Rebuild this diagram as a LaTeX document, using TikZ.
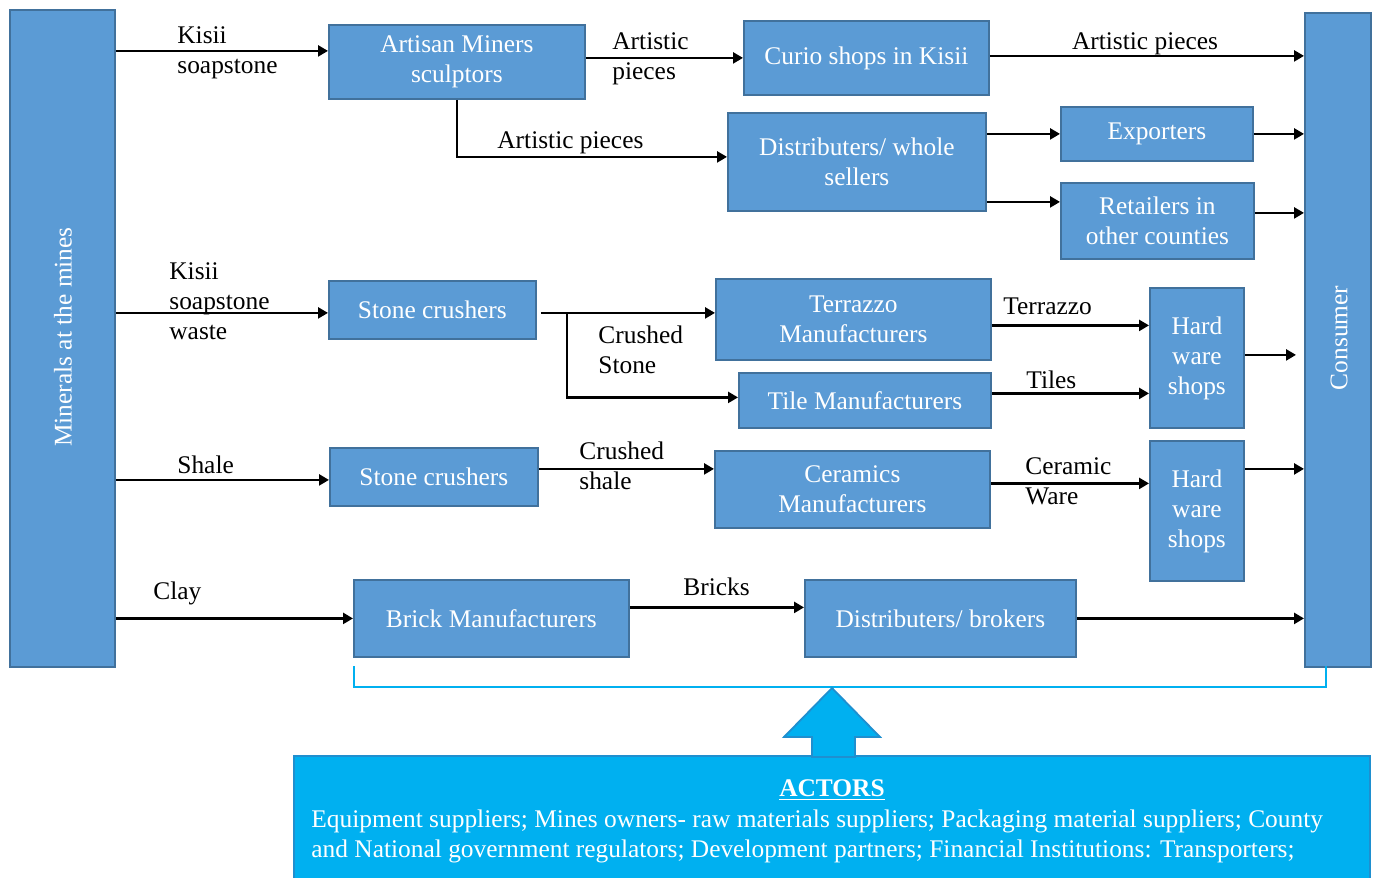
\documentclass[tikz,border=0pt]{standalone}
\usepackage{fontspec}
\setmainfont{Liberation Serif}
\usetikzlibrary{arrows.meta,calc}
\definecolor{boxfill}{HTML}{5B9BD5}
\definecolor{boxline}{HTML}{41719C}
\definecolor{actfill}{HTML}{00B0F0}
\definecolor{actline}{HTML}{1F8FCF}
\newcommand{\myfont}{\fontsize{12.7}{15}\selectfont}
\tikzset{
  box/.style={draw=boxline, line width=0.9pt, fill=boxfill, text=white, align=center,
    inner sep=0pt, anchor=north west, font=\myfont},
  arr/.style={line width=1.25pt, -{Triangle[length=5pt,width=5.5pt]}},
  lbl/.style={anchor=west, inner sep=0pt, align=left, font=\myfont},
}
\begin{document}
\begin{tikzpicture}[x=0.5pt,y=-0.5pt]
\useasboundingbox (0,0) rectangle (1376,878);
% main boxes
\node[box, minimum width=52.5pt, minimum height=328.5pt] (mines) at (9,9) {};
\node[rotate=90, text=white, font=\myfont] (minest) at (63,337) {Minerals at the mines};
\node[box, minimum width=33pt, minimum height=327pt] (consumer) at (1304,12) {};
\node[rotate=90, text=white, font=\myfont] (consumert) at (1339,338) {Consumer};

\node[box, minimum width=128pt, minimum height=37pt] (artisan) at (328,24) {Artisan Miners\\sculptors};
\node[box, minimum width=122.5pt, minimum height=37pt] (curio) at (743,20) {Curio shops in Kisii};
\node[box, minimum width=129pt, minimum height=49pt] (dist) at (727,112) {Distributers/ whole\\sellers};
\node[box, minimum width=96pt, minimum height=27pt] (exp) at (1060,106) {Exporters};
\node[box, minimum width=96.5pt, minimum height=38pt] (ret) at (1060,182) {Retailers in\\other counties};
\node[box, minimum width=103.5pt, minimum height=29pt] (sc1) at (328,280) {Stone crushers};
\node[box, minimum width=137.5pt, minimum height=40.5pt] (terr) at (715,278) {Terrazzo\\Manufacturers};
\node[box, minimum width=126pt, minimum height=27.5pt] (tile) at (738,372) {Tile Manufacturers};
\node[box, minimum width=47pt, minimum height=70pt] (hw1) at (1149,287) {Hard\\ware\\shops};
\node[box, minimum width=104pt, minimum height=29pt] (sc2) at (329,447) {Stone crushers};
\node[box, minimum width=137.5pt, minimum height=38.5pt] (cer) at (714,450) {Ceramics\\Manufacturers};
\node[box, minimum width=47pt, minimum height=70pt] (hw2) at (1149,440) {Hard\\ware\\shops};
\node[box, minimum width=137.5pt, minimum height=38.5pt] (brick) at (353,579) {Brick Manufacturers};
\node[box, minimum width=135.5pt, minimum height=38.5pt] (brok) at (804,579) {Distributers/ brokers};

% connectors
\coordinate (p1) at ([yshift=5.5pt]artisan.west);
\draw[arr] (mines.east |- p1) -- (p1);
\draw[arr] (artisan.east |- curio.west) -- (curio.west);
\draw[arr] (artisan.south) |- ([yshift=2.5pt]dist.west);
\draw[arr] ([yshift=1pt]curio.east) -- ([yshift=1pt]curio.east -| consumer.west);
\draw[arr] (dist.east |- exp.west) -- (exp.west);
\draw[arr] (exp.east) -- (exp.east -| consumer.west);
\coordinate (p2) at ([yshift=9.5pt]ret.west);
\draw[arr] (dist.east |- p2) -- (p2);
\coordinate (p3) at ([yshift=4pt]ret.east);
\draw[arr] (p3) -- (p3 -| consumer.west);
\coordinate (p4) at ([yshift=-1.5pt]sc1.west);
\draw[arr] (mines.east |- p4) -- (p4);
\coordinate (p5) at ([yshift=-1.5pt,xshift=2pt]sc1.east);
\draw[arr] (p5) -- (p5 -| terr.west);
\coordinate (p6) at ([xshift=15pt]sc1.east);
\draw[arr] ([yshift=-1.5pt]p6) |- ([yshift=1.5pt]tile.west);
\coordinate (p7) at ([yshift=-3pt]terr.east);
\draw[arr] (p7) -- (p7 -| hw1.west);
\coordinate (p8) at ([yshift=3.5pt]tile.east);
\draw[arr] (p8) -- (p8 -| hw1.west);
\draw[arr] ([yshift=1.5pt]hw1.east) -- ([yshift=1.5pt,xshift=-4pt]hw1.east -| consumer.west);
\coordinate (p9) at ([yshift=-1.5pt]sc2.west);
\draw[arr] (mines.east |- p9) -- (p9);
\coordinate (p10) at ([yshift=4pt]sc2.east);
\draw[arr] (p10) -- (p10 -| cer.west);
\coordinate (p11) at ([yshift=3pt]cer.east);
\draw[arr] (p11) -- (p11 -| hw2.west);
\coordinate (p12) at ([yshift=21pt]hw2.east);
\draw[arr] (p12) -- (p12 -| consumer.west);
\draw[arr] (mines.east |- brick.west) -- (brick.west);
\coordinate (p13) at ([yshift=5.5pt]brick.east);
\draw[arr] (p13) -- (p13 -| brok.west);
\draw[arr] (brok.east) -- (brok.east -| consumer.west);

% labels
\node[lbl] (l1) at (177,53) {Kisii\\soapstone};
\node[lbl] (l2) at (612,59) {Artistic\\pieces};
\node[lbl] (l3) at (497,143) {Artistic pieces};
\node[lbl, anchor=center] (l4) at (1145,44) {Artistic pieces};
\node[lbl] (l5) at (169,301) {Kisii\\soapstone\\waste};
\node[lbl] (l6) at (598,350) {Crushed\\Stone};
\node[lbl] (l7) at (1003,306) {Terrazzo};
\node[lbl] (l8) at (1026,380) {Tiles};
\node[lbl] (l9) at (177,465) {Shale};
\node[lbl] (l10) at (579,466) {Crushed\\shale};
\node[lbl] (l11) at (1025,481) {Ceramic\\Ware};
\node[lbl] (l12) at (153,593) {Clay};
\node[lbl] (l13) at (683,587) {Bricks};

% bracket
\draw[actfill, line width=1.1pt] (354,666) -- (354,687) -- (1326,687) -- (1326,666);

% actors box
\draw[draw=actline, line width=0.9pt, fill=actfill] (294,756) rectangle (1370,890);
\node[inner sep=0pt, text=white, font=\myfont\bfseries] (acth) at (832,790) {\underline{ACTORS}};
\node[inner sep=0pt, anchor=west, text=white, align=left, font=\myfont] (actt) at (311,836)
 {Equipment suppliers; Mines owners- raw materials suppliers; Packaging material suppliers; County\\
  and National government regulators; Development partners; Financial Institutions: Transporters;};
% big arrow
\draw[draw=actline, line width=0.9pt, fill=actfill]
  (832,688) -- (880,737) -- (855,737) -- (855,757) -- (812,757) -- (812,737) -- (784,737) -- cycle;
\end{tikzpicture}
\end{document}
